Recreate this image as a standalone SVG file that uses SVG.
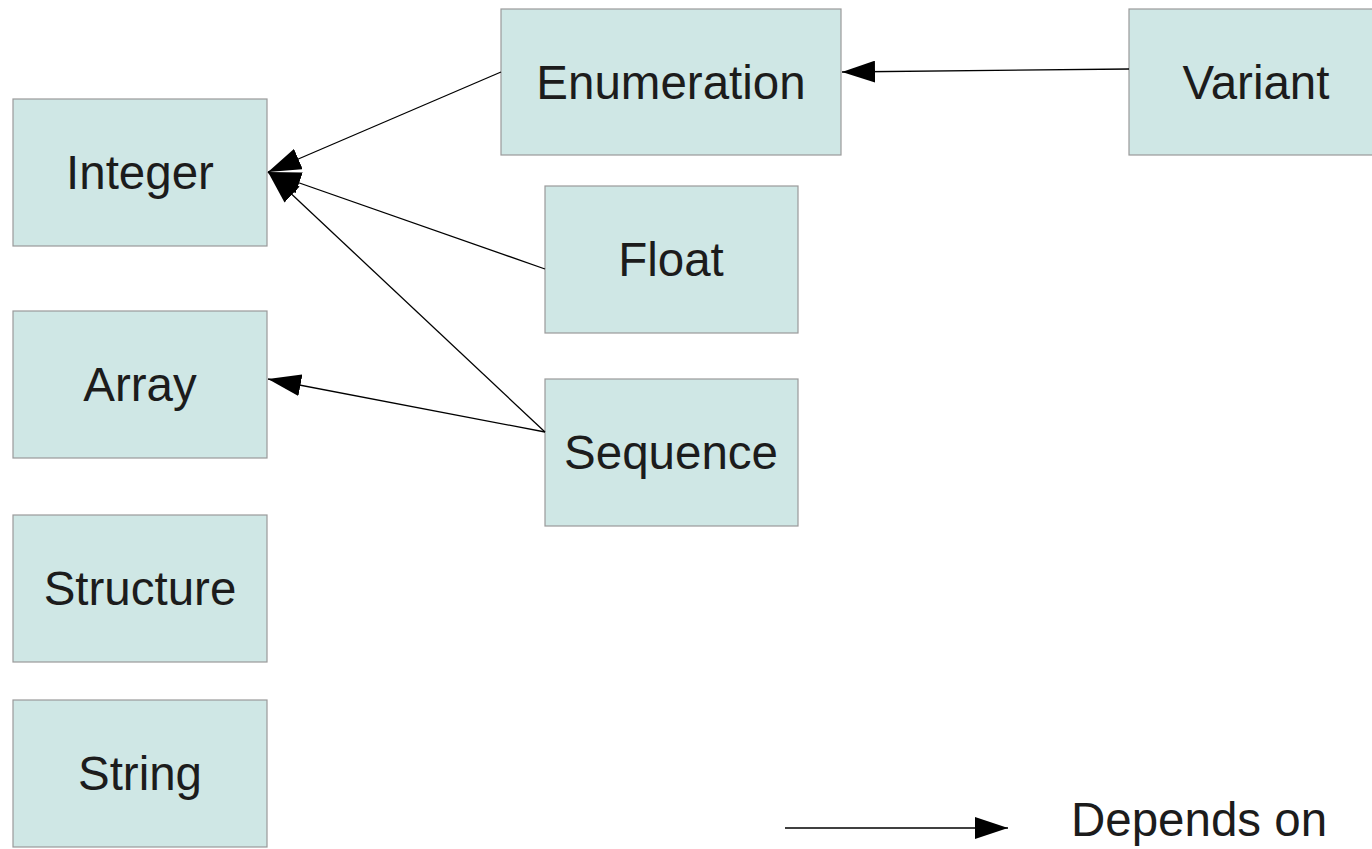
<svg xmlns="http://www.w3.org/2000/svg" width="1372" height="849" viewBox="0 0 1372 849">
<style>
.box{fill:#cfe7e5;stroke:#9a9a9a;stroke-width:1.2}
.lbl{font-family:"Liberation Sans",Arial,sans-serif;font-size:47.5px;fill:#1c1c1c;text-anchor:middle}
.con{stroke:#000;stroke-width:1.3;fill:none;marker-end:url(#ah)}
</style>
<defs>
<marker id="ah" viewBox="0 0 33 22" refX="33" refY="11" markerWidth="33" markerHeight="22" markerUnits="userSpaceOnUse" orient="auto">
<path d="M0,0 L33,11 L0,22 z" fill="#000"/>
</marker>
</defs>
<rect width="1372" height="849" fill="#fff"/>
<g id="integer"><rect class="box" x="13" y="99" width="254" height="147"/><text class="lbl" x="140" y="189">Integer</text></g>
<g id="array"><rect class="box" x="13" y="311" width="254" height="147"/><text class="lbl" x="140" y="401">Array</text></g>
<g id="structure"><rect class="box" x="13" y="515" width="254" height="147"/><text class="lbl" x="140" y="605">Structure</text></g>
<g id="string"><rect class="box" x="13" y="700" width="254" height="147"/><text class="lbl" x="140" y="790">String</text></g>
<g id="enumeration"><rect class="box" x="501" y="9" width="340" height="146"/><text class="lbl" x="671" y="99">Enumeration</text></g>
<g id="variant"><rect class="box" x="1129" y="9" width="250" height="146"/><text class="lbl" x="1256" y="99">Variant</text></g>
<g id="float"><rect class="box" x="545" y="186" width="253" height="147"/><text class="lbl" x="671" y="276">Float</text></g>
<g id="sequence"><rect class="box" x="545" y="379" width="253" height="147"/><text class="lbl" x="671" y="469">Sequence</text></g>
<g id="connectors">
<line class="con" x1="501" y1="72" x2="268" y2="172"/>
<line class="con" x1="545" y1="269" x2="268" y2="172"/>
<line class="con" x1="545" y1="432" x2="268" y2="172"/>
<line class="con" x1="545" y1="432" x2="268" y2="379"/>
<line class="con" x1="1129" y1="69" x2="842" y2="72"/>
<line class="con" x1="785" y1="828" x2="1008" y2="828"/>
</g>
<text class="lbl" x="1199" y="836">Depends on</text>
</svg>
